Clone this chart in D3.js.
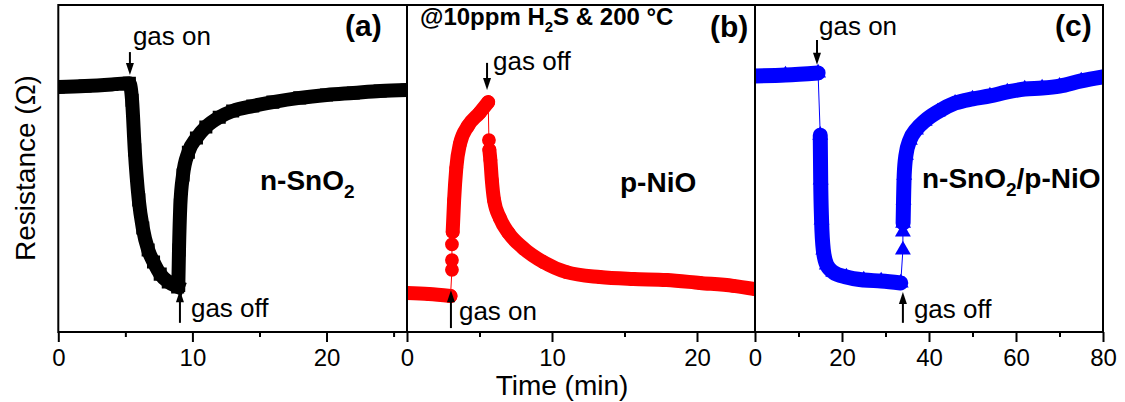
<!DOCTYPE html>
<html>
<head>
<meta charset="utf-8">
<script src="https://cdn.jsdelivr.net/npm/d3@7"></script>
<style>
body { margin: 0; background: #fff; }
text { font-family: "Liberation Sans", Arial, sans-serif; fill: #000; }
</style>
</head>
<body>
<script>
// time (min) vs resistance (a.u., 0 = frame bottom, 100 = frame top)
// each series is split into segments; one-point segments are the isolated jump markers
var snoData = [
	[[0,74.9],[2,75.2],[4,75.7],[5.3,76.1],[5.5,70.9],[5.7,55.7],[6.0,40.4],[6.3,31.8],[6.7,25.1],[7.1,21.4],[7.6,17.7],[8.2,15.3],[8.9,13.8]],
	[[8.95,14.4],[9.0,25.1],[9.1,38.8],[9.3,48.0],[9.7,55.0],[10.3,59.3],[11.0,62.7],[12.0,65.7],[13.0,67.6],[14.5,69.1],[16,70.3],[18,71.6],[20,72.5],[22,73.1],[24,73.7],[26,74.0]]
];
var nioData = [
	[[0,11.9],[1.5,11.6],[3.0,11.0]],
	[[3.1,19.0]], [[3.1,22.0]], [[3.1,26.8]],
	[[3.15,30.6],[3.25,40.4],[3.4,50.2],[3.65,57.5],[4.2,63.0],[5.0,67.0],[5.6,70.3]],
	[[5.65,58.7]],
	[[5.68,55.7],[5.75,52.6],[5.85,46.5],[6.0,40.4],[6.4,34.9],[7.0,30.3],[8.0,25.7],[9.4,21.4],[11,18.3],[13.3,16.8],[15.6,16.2],[17.9,15.9],[20.2,15.0],[22.5,14.1],[24,13.1]]
];
var hetData = [
	[[0,78.3],[7,78.6],[14.5,79.2]],
	[[15.0,60.2],[15.1,46.5],[15.3,34.3],[15.7,25.1],[16.5,20.5],[18,18.3],[21,16.8],[25,15.9],[29,15.6],[33.5,15.0]],
	[[34.0,25.1]], [[34.0,30.6]],
	[[34.05,33.3],[34.15,40.4],[34.3,48.0],[34.7,54.1],[35.6,58.7],[37,61.8],[39,64.5],[42,67.3],[46,70.0],[50,71.3],[54,72.2],[58,73.4],[62,74.3],[66,74.6],[70,75.2],[75,76.8],[80,78.0]]
];

var domainsX = [[0,26],[0,24],[0,80]];
var majorTicks = [[0,10,20],[0,10,20],[0,20,40,60,80]];
var minorTicks = [[5,15,25],[5,15],[10,30,50,70]];

var panelLabels = ['(a)','(b)','(c)'];

// arrows: panel, time, tail value, tip value
var arrows = [
	{p:0, t:5.34, from:85.6, to:78.6, text:'gas on', dx:3, dy:-7},
	{p:0, t:9.07, from:2.8, to:12.8, text:'gas off', dx:11, dy:-6},
	{p:1, t:5.52, from:82.3, to:74.0, text:'gas off', dx:6, dy:7},
	{p:1, t:3.03, from:1.2, to:12.8, text:'gas on', dx:8, dy:-8},
	{p:2, t:14.25, from:89.3, to:81.7, text:'gas on', dx:2, dy:-5},
	{p:2, t:34.0, from:2.8, to:12.2, text:'gas off', dx:11, dy:-5}
];

var W = 1125, H = 402;
var frameTop = 5, frameBottom = 332;
var edges = [58.3, 407, 755, 1103];

var svg = d3.select('body').append('svg')
	.attr('width', W)
	.attr('height', H);

svg.append('rect').attr('width', W).attr('height', H).attr('fill', '#fff');

var y = d3.scaleLinear().domain([0, 100]).range([frameBottom, frameTop]);

var panels = [
	{data: snoData, color: '#000', symbol: d3.symbolSquare, size: 170, width: 14, cap: 'square'},
	{data: nioData, color: '#ff0000', symbol: d3.symbolCircle, size: 150, width: 14, cap: 'round'},
	{data: hetData, color: '#0000ff', symbol: d3.symbolTriangle, size: 110, width: 15, cap: 'round'}
];

var defs = svg.append('defs');

panels.forEach(function(pn, i) {
	var x = d3.scaleLinear().domain(domainsX[i]).range([edges[i], edges[i+1]]);
	pn.x = x;

	defs.append('clipPath').attr('id', 'clip' + i)
		.append('rect')
		.attr('x', edges[i]).attr('y', frameTop)
		.attr('width', edges[i+1] - edges[i]).attr('height', frameBottom - frameTop);

	var g = svg.append('g').attr('clip-path', 'url(#clip' + i + ')');

	// thin connecting line through every point
	var all = [].concat.apply([], pn.data);
	g.append('path')
		.datum(all)
		.attr('fill', 'none')
		.attr('stroke', pn.color)
		.attr('stroke-width', 1)
		.attr('d', d3.line().x(function(d) { return x(d[0]); }).y(function(d) { return y(d[1]); }));

	// dense marker band
	var band = d3.line().curve(d3.curveMonotoneX)
		.x(function(d) { return x(d[0]); })
		.y(function(d) { return y(d[1]); });

	g.selectAll('path.band')
		.data(pn.data.filter(function(s) { return s.length > 1; }))
		.enter().append('path')
		.attr('class', 'band')
		.attr('fill', 'none')
		.attr('stroke', pn.color)
		.attr('stroke-width', pn.width)
		.attr('stroke-linecap', pn.cap)
		.attr('stroke-linejoin', 'round')
		.attr('d', band);

	g.selectAll('path.sym')
		.data(all)
		.enter().append('path')
		.attr('class', 'sym')
		.attr('fill', pn.color)
		.attr('transform', function(d) { return 'translate(' + x(d[0]) + ',' + y(d[1]) + ')'; })
		.attr('d', d3.symbol().type(pn.symbol).size(pn.size));

	// axes
	var ax = svg.append('g').attr('transform', 'translate(0,' + frameBottom + ')');
	ax.call(d3.axisBottom(x).tickValues(majorTicks[i]).tickSize(10).tickSizeOuter(0).tickPadding(7));
	ax.append('g').call(d3.axisBottom(x).tickValues(minorTicks[i]).tickSize(5).tickSizeOuter(0).tickFormat(''));
	ax.selectAll('.domain').remove();
	ax.selectAll('line').attr('stroke', '#000').attr('stroke-width', 2);
	ax.selectAll('text')
		.style('font-family', '"Liberation Sans", Arial, sans-serif')
		.style('font-size', '24px')
		.attr('fill', '#000');

	svg.append('rect')
		.attr('x', edges[i]).attr('y', frameTop)
		.attr('width', edges[i+1] - edges[i]).attr('height', frameBottom - frameTop)
		.attr('fill', 'none')
		.attr('stroke', '#000')
		.attr('stroke-width', 2);
});

// arrows and their labels
arrows.forEach(function(a) {
	var x = panels[a.p].x;
	var ax = x(a.t), y0 = y(a.from), y1 = y(a.to);
	var dir = y1 > y0 ? 1 : -1;
	svg.append('line')
		.attr('x1', ax).attr('x2', ax)
		.attr('y1', y0).attr('y2', y1 - dir * 8)
		.attr('stroke', '#000').attr('stroke-width', 2);
	svg.append('path')
		.attr('d', 'M' + ax + ',' + y1 + 'L' + (ax - 4) + ',' + (y1 - dir * 12) + 'L' + (ax + 4) + ',' + (y1 - dir * 12) + 'Z')
		.attr('fill', '#000');
	svg.append('text')
		.attr('x', ax + a.dx)
		.attr('y', y0 + a.dy)
		.style('font-size', '26px')
		.text(a.text);
});

// panel letters
var letterPos = [[345, 36], [710, 37], [1055, 36]];
panelLabels.forEach(function(l, i) {
	svg.append('text')
		.attr('x', letterPos[i][0]).attr('y', letterPos[i][1])
		.style('font-size', '30px').style('font-weight', 'bold')
		.text(l);
});

// material names
function material(x0, y0, parts) {
	var t = svg.append('text').attr('x', x0).attr('y', y0)
		.style('font-size', '28px').style('font-weight', 'bold');
	parts.forEach(function(p) {
		t.append('tspan')
			.attr('dy', p[1])
			.style('font-size', p[2])
			.text(p[0]);
	});
}
material(260, 190, [['n-SnO', 0, '28px'], ['2', 8, '19px']]);
material(620, 192, [['p-NiO', 0, '28px']]);
material(922, 188, [['n-SnO', 0, '28px'], ['2', 8, '19px'], ['/p-NiO', -8, '28px']]);

// condition label
var cond = svg.append('text').attr('x', 420).attr('y', 25)
	.style('font-size', '24px').style('font-weight', 'bold');
cond.append('tspan').text('@10ppm H');
cond.append('tspan').attr('dy', 7).style('font-size', '15px').text('2');
cond.append('tspan').attr('dy', -7).text('S & 200 °C');

// axis titles
svg.append('text')
	.attr('x', 562).attr('y', 395)
	.attr('text-anchor', 'middle')
	.style('font-size', '28px')
	.text('Time (min)');

svg.append('text')
	.attr('transform', 'translate(35,168) rotate(-90)')
	.attr('text-anchor', 'middle')
	.style('font-size', '28px')
	.text('Resistance (Ω)');
</script>
</body>
</html>
